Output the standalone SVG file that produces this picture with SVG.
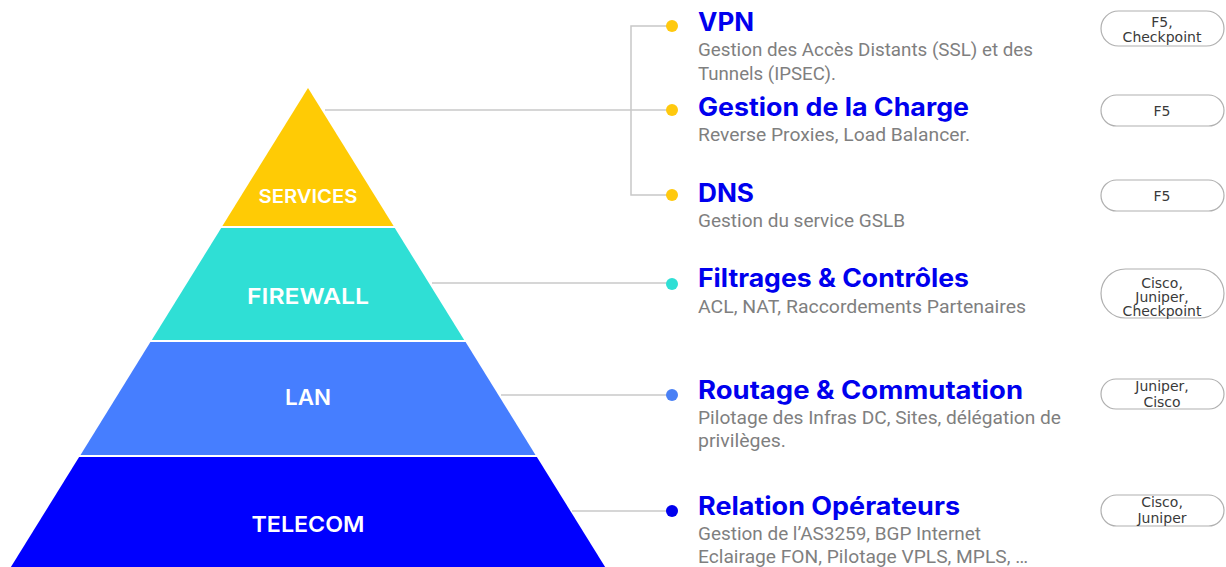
<svg xmlns="http://www.w3.org/2000/svg" width="1226" height="567" viewBox="0 0 1226 567">
<style>
.lbl{font-family:Inter,"Liberation Sans",sans-serif;font-weight:600;fill:#ffffff;text-anchor:middle}
.ttl{font-family:Inter,"Liberation Sans",sans-serif;font-weight:700;font-size:25px;fill:#0000ee}
.dsc{font-family:Roboto,"Liberation Sans",sans-serif;font-size:18px;fill:#7f7f7f}
.pill{fill:#ffffff;stroke:#b0b0b0;stroke-width:1.2}
.ptx{font-family:"DejaVu Sans",sans-serif;font-size:14px;fill:#3a3a3a;text-anchor:middle}
.con{fill:none;stroke:#c8c8c8;stroke-width:1.5}
</style>
<rect width="1226" height="567" fill="#ffffff"/>
<g id="connectors">
<polyline class="con" points="325,110 631,110"/>
<polyline class="con" points="670,26 631,26 631,195 670,195"/>
<line class="con" x1="631" y1="110" x2="670" y2="110"/>
<line class="con" x1="432" y1="283" x2="670" y2="283"/>
<line class="con" x1="501" y1="395" x2="670" y2="395"/>
<line class="con" x1="572" y1="511" x2="670" y2="511"/>
</g>
<g id="services">
<polygon points="308,88 393.6,226 222.4,226" fill="#ffcb05"/>
<text class="lbl" x="308" y="203" font-size="19" textLength="99" lengthAdjust="spacingAndGlyphs">SERVICES</text>
</g>
<g id="firewall">
<polygon points="221.2,228 394.8,228 464.2,340 151.8,340" fill="#2fdfd5"/>
<text class="lbl" x="308" y="304" font-size="22" textLength="122" lengthAdjust="spacingAndGlyphs">FIREWALL</text>
</g>
<g id="lan">
<polygon points="150.4,342 465.6,342 535.5,455 80.5,455" fill="#467eff"/>
<text class="lbl" x="308" y="405" font-size="22" textLength="46" lengthAdjust="spacingAndGlyphs">LAN</text>
</g>
<g id="telecom">
<polygon points="79.1,457 536.9,457 605.1,567 10.9,567" fill="#0000ff"/>
<text class="lbl" x="308" y="532" font-size="22" textLength="113" lengthAdjust="spacingAndGlyphs">TELECOM</text>
</g>
<g id="vpn">
<circle cx="672" cy="26" r="6" fill="#ffc90e"/>
<text class="ttl" x="698" y="31" textLength="56" lengthAdjust="spacingAndGlyphs">VPN</text>
<text class="dsc" x="698" y="56" textLength="335" lengthAdjust="spacingAndGlyphs">Gestion des Accès Distants (SSL) et des</text>
<text class="dsc" x="698" y="80" textLength="138" lengthAdjust="spacingAndGlyphs">Tunnels (IPSEC).</text>
<rect class="pill" x="1101" y="11" width="123" height="35" rx="17.5"/>
<text class="ptx" x="1162" y="27">F5,</text>
<text class="ptx" x="1162" y="42">Checkpoint</text>
</g>
<g id="charge">
<circle cx="672" cy="110" r="6" fill="#ffc90e"/>
<text class="ttl" x="698" y="116" textLength="271" lengthAdjust="spacingAndGlyphs">Gestion de la Charge</text>
<text class="dsc" x="698" y="141" textLength="272" lengthAdjust="spacingAndGlyphs">Reverse Proxies, Load Balancer.</text>
<rect class="pill" x="1101" y="95" width="123" height="31" rx="15.5"/>
<text class="ptx" x="1162" y="116">F5</text>
</g>
<g id="dns">
<circle cx="672" cy="195" r="6" fill="#ffc90e"/>
<text class="ttl" x="698" y="202" textLength="56" lengthAdjust="spacingAndGlyphs">DNS</text>
<text class="dsc" x="698" y="227" textLength="207" lengthAdjust="spacingAndGlyphs">Gestion du service GSLB</text>
<rect class="pill" x="1101" y="180" width="123" height="31" rx="15.5"/>
<text class="ptx" x="1162" y="201">F5</text>
</g>
<g id="filtrages">
<circle cx="672" cy="284" r="6" fill="#2fdfd5"/>
<text class="ttl" x="698" y="287" textLength="271" lengthAdjust="spacingAndGlyphs">Filtrages &amp; Contrôles</text>
<text class="dsc" x="698" y="313" textLength="328" lengthAdjust="spacingAndGlyphs">ACL, NAT, Raccordements Partenaires</text>
<rect class="pill" x="1101" y="269" width="123" height="49" rx="24.5"/>
<text class="ptx" x="1162" y="288">Cisco,</text>
<text class="ptx" x="1162" y="302">Juniper,</text>
<text class="ptx" x="1162" y="316">Checkpoint</text>
</g>
<g id="routage">
<circle cx="672" cy="395" r="6" fill="#4a80f5"/>
<text class="ttl" x="698" y="399" textLength="325" lengthAdjust="spacingAndGlyphs">Routage &amp; Commutation</text>
<text class="dsc" x="698" y="424" textLength="363" lengthAdjust="spacingAndGlyphs">Pilotage des Infras DC, Sites, délégation de</text>
<text class="dsc" x="698" y="447" textLength="88" lengthAdjust="spacingAndGlyphs">privilèges.</text>
<rect class="pill" x="1101" y="379" width="123" height="30" rx="15"/>
<text class="ptx" x="1162" y="391">Juniper,</text>
<text class="ptx" x="1162" y="407">Cisco</text>
</g>
<g id="relation">
<circle cx="672" cy="511" r="6" fill="#0000ee"/>
<text class="ttl" x="698" y="515" textLength="262" lengthAdjust="spacingAndGlyphs">Relation Opérateurs</text>
<text class="dsc" x="698" y="540" textLength="283" lengthAdjust="spacingAndGlyphs">Gestion de l’AS3259, BGP Internet</text>
<text class="dsc" x="698" y="563" textLength="330" lengthAdjust="spacingAndGlyphs">Eclairage FON, Pilotage VPLS, MPLS, …</text>
<rect class="pill" x="1101" y="495" width="123" height="31" rx="15.5"/>
<text class="ptx" x="1162" y="507">Cisco,</text>
<text class="ptx" x="1162" y="523">Juniper</text>
</g>
</svg>
